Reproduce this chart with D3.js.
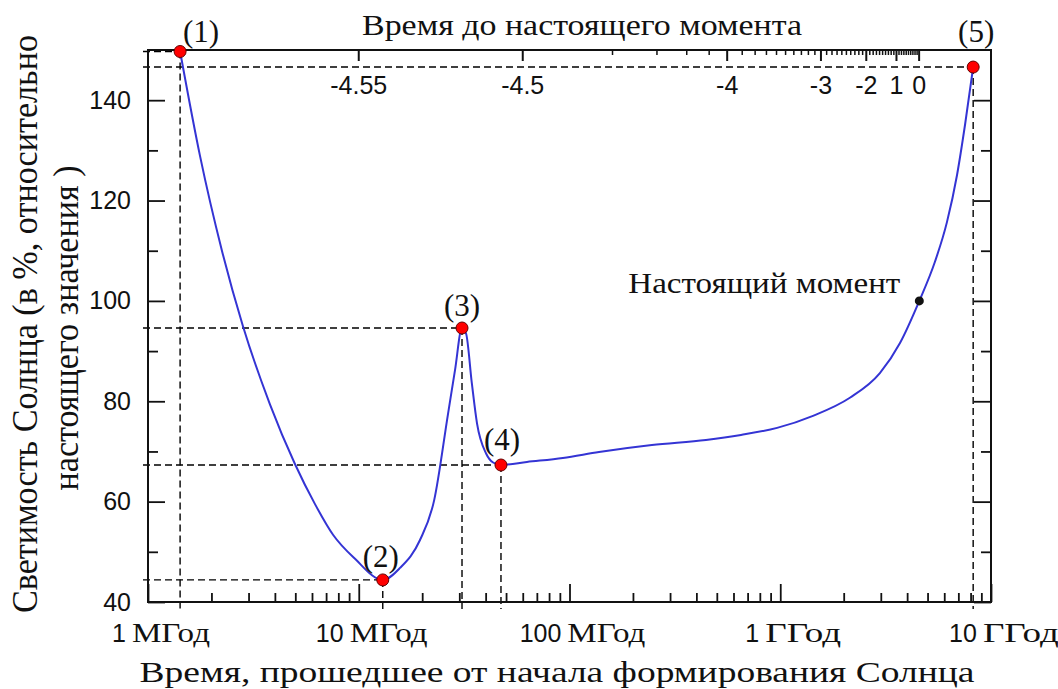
<!DOCTYPE html>
<html lang="ru">
<head>
  <meta charset="UTF-8">
  <title>Светимость Солнца</title>
  <script src="https://d3js.org/d3.v7.min.js"></script>
  <style>
    body { margin: 0; background: #fff; }
    .serif { font-family: "Liberation Serif", "Times New Roman", serif; fill: #111; }
    .sans { font-family: "Liberation Sans", Arial, sans-serif; fill: #111; }
    .tick line { stroke: #111; stroke-width: 1.8; }
    .dash { stroke: #000; stroke-width: 1.4; stroke-dasharray: 7,4; fill: none; }
  </style>
</head>
<body>
  <svg id="chart" width="1058" height="689"></svg>
  <script>
    // luminosity curve: time since formation (MYr) and luminosity (% of today)
    const curveTime = [1.42, 1.765, 2.24, 2.82, 3.79, 4.98, 6.2, 7.55, 9.6, 13.0, 15.7, 19.5, 22.8, 26.5, 28.6, 30.9,
                       32.3, 34.4, 36.4, 40.2, 43.4, 47.3, 62.8, 93, 138, 246, 444, 651, 966, 1430, 2140, 2970, 3700,
                       4570, 5420, 6180, 6900, 7530, 8230];
    const curveLum = [149.7, 128.9, 110.1, 95.0, 79.4, 67.5, 59.5, 53.4, 48.6, 44.4, 46.8, 52.3, 60.3, 77.4, 86.1, 94.6,
                      93.5, 83.6, 75.6, 69.6, 67.8, 67.3, 67.9, 68.7, 69.9, 71.3, 72.3, 73.3, 74.7, 77.1, 80.7, 85.6, 91.6,
                      100, 107.8, 115.7, 125.1, 135.1, 146.6];

    // marked stages
    const markTime = [1.42, 13.0, 30.9, 47.3, 8230];
    const markLum = [149.7, 44.4, 94.6, 67.3, 146.6];
    const markLabels = ["(1)", "(2)", "(3)", "(4)", "(5)"];
    const markLabelDx = [21, -2, 0, 1, 3];
    const markLabelDy = [-10, -13, -12, -15, -25];

    const nowTime = 4570;   // MYr
    const nowLum = 100;
    const nowLabel = "Настоящий момент";

    // bottom axis
    const bottomTicks = [1, 10, 100, 1000, 10000];
    const bottomNums = ["1", "10", "100", "1", "10"];
    const bottomUnits = ["МГод", "МГод", "МГод", "ГГод", "ГГод"];

    // top axis: Gyr before present
    const nowGyr = 4.56;
    const topMajor = [-4.55, -4.5, -4, -3, -2, -1, 0];
    const topLabels = ["-4.55", "-4.5", "-4", "-3", "-2", "1", "0"];
    const topMinor = d3.range(1, 45).map(i => -i / 10).filter(v => Math.abs(v - Math.round(v)) > 1e-6);

    // left axis
    const yMajor = [40, 60, 80, 100, 120, 140];
    const yMinor = [50, 70, 90, 110, 130];

    const L = 148, R = 991, T = 50, B = 602;
    const svg = d3.select("#chart");
    const x = d3.scaleLog().domain([1, 10000]).range([L, R]);
    const y = d3.scaleLinear().domain([40, 150]).range([B, T]);
    const xTop = v => x((nowGyr + v) * 1000);

    // dashed guide lines
    const guides = svg.append("g");
    markTime.forEach((t, i) => {
      guides.append("line").attr("class", "dash")
        .attr("x1", L - 5).attr("x2", x(t)).attr("y1", y(markLum[i])).attr("y2", y(markLum[i]));
      guides.append("line").attr("class", "dash")
        .attr("x1", x(t)).attr("x2", x(t)).attr("y1", y(markLum[i])).attr("y2", B + 7);
    });

    // axes (ticks only, drawn inward)
    const bottomMinor = x.ticks().filter(v => !bottomTicks.includes(v));
    svg.append("g").attr("transform", `translate(0,${B})`)
      .call(d3.axisBottom(x).tickValues(bottomMinor).tickSize(-9).tickFormat(""))
      .call(g => g.select(".domain").remove());
    svg.append("g").attr("transform", `translate(0,${B})`)
      .call(d3.axisBottom(x).tickValues(bottomTicks).tickSize(-18).tickFormat(""))
      .call(g => g.select(".domain").remove());

    svg.append("g").attr("transform", `translate(${L},0)`)
      .call(d3.axisLeft(y).tickValues(yMajor).tickSize(-17).tickPadding(17))
      .call(g => g.select(".domain").remove())
      .call(g => g.selectAll("text").attr("class", "sans").style("font-size", "25px"));
    svg.append("g").attr("transform", `translate(${L},0)`)
      .call(d3.axisLeft(y).tickValues(yMinor).tickSize(-10).tickFormat(""))
      .call(g => g.select(".domain").remove());
    svg.append("g").attr("transform", `translate(${R},0)`)
      .call(d3.axisRight(y).tickValues(yMajor).tickSize(-17).tickFormat(""))
      .call(g => g.select(".domain").remove());
    svg.append("g").attr("transform", `translate(${R},0)`)
      .call(d3.axisRight(y).tickValues(yMinor).tickSize(-10).tickFormat(""))
      .call(g => g.select(".domain").remove());

    const topG = svg.append("g").attr("transform", `translate(0,${T})`);
    topG.selectAll(".tmin").data(topMinor).join("line").attr("class", "tmin")
      .attr("x1", xTop).attr("x2", xTop).attr("y1", 0).attr("y2", 5)
      .attr("stroke", "#111").attr("stroke-width", 1.5);
    topG.selectAll(".tmaj").data(topMajor).join("line").attr("class", "tmaj")
      .attr("x1", xTop).attr("x2", xTop).attr("y1", 0).attr("y2", 11)
      .attr("stroke", "#111").attr("stroke-width", 2);
    topG.selectAll(".tlab").data(topMajor).join("text").attr("class", "sans tlab")
      .attr("x", xTop).attr("y", 44).attr("text-anchor", "middle")
      .style("font-size", "25px").text((d, i) => topLabels[i]);

    // frame
    svg.append("rect").attr("x", L).attr("y", T).attr("width", R - L).attr("height", B - T)
      .attr("fill", "none").attr("stroke", "#111").attr("stroke-width", 2);

    // bottom tick labels: sans number + serif unit, centred a bit right of the tick
    bottomTicks.forEach((d, i) => {
      const num = svg.append("text").attr("class", "sans").attr("y", 642)
        .style("font-size", "25px").text(bottomNums[i]);
      const unitW = bottomUnits[i] === "МГод" ? 78 : 76;
      const numW = num.node().getComputedTextLength();
      const start = x(d) + 13 - (numW + 6 + unitW) / 2;
      num.attr("x", start);
      svg.append("text").attr("class", "serif").attr("x", start + numW + 6).attr("y", 642)
        .attr("textLength", unitW).attr("lengthAdjust", "spacingAndGlyphs")
        .style("font-size", "27px").text(bottomUnits[i]);
    });

    // titles
    svg.append("text").attr("class", "serif").attr("x", 582).attr("y", 35)
      .attr("text-anchor", "middle").attr("textLength", 440).attr("lengthAdjust", "spacingAndGlyphs")
      .style("font-size", "29px").text("Время до настоящего момента");
    svg.append("text").attr("class", "serif").attr("x", 557).attr("y", 682)
      .attr("text-anchor", "middle").attr("textLength", 835).attr("lengthAdjust", "spacingAndGlyphs")
      .style("font-size", "30px").text("Время, прошедшее от начала формирования Солнца");
    svg.append("text").attr("class", "serif").attr("transform", "translate(37,324) rotate(-90)")
      .attr("text-anchor", "middle").attr("textLength", 578).attr("lengthAdjust", "spacingAndGlyphs")
      .style("font-size", "36px").text("Светимость Солнца (в %, относительно");
    svg.append("text").attr("class", "serif").attr("transform", "translate(78,328) rotate(-90)")
      .attr("text-anchor", "middle").attr("textLength", 325).attr("lengthAdjust", "spacingAndGlyphs")
      .style("font-size", "36px").text("настоящего значения )");

    // curve
    const line = d3.line().x((d, i) => x(curveTime[i])).y(d => y(d)).curve(d3.curveMonotoneX);
    svg.append("path").datum(curveLum).attr("d", line)
      .attr("fill", "none").attr("stroke", "#3434d4").attr("stroke-width", 2);

    // present moment
    svg.append("circle").attr("cx", x(nowTime)).attr("cy", y(nowLum)).attr("r", 4.5).attr("fill", "#111");
    svg.append("text").attr("class", "serif").attr("x", x(nowTime) - 19).attr("y", y(nowLum) - 8)
      .attr("text-anchor", "end").attr("textLength", 272).attr("lengthAdjust", "spacingAndGlyphs")
      .style("font-size", "29px").text(nowLabel);

    // marked points
    svg.selectAll(".mark").data(markTime).join("circle").attr("class", "mark")
      .attr("cx", d => x(d)).attr("cy", (d, i) => y(markLum[i])).attr("r", 6)
      .attr("fill", "#f00").attr("stroke", "#600").attr("stroke-width", 1);
    svg.selectAll(".mlab").data(markTime).join("text").attr("class", "serif mlab")
      .attr("x", (d, i) => x(d) + markLabelDx[i]).attr("y", (d, i) => y(markLum[i]) + markLabelDy[i])
      .attr("text-anchor", "middle").style("font-size", "31px").text((d, i) => markLabels[i]);
  </script>
</body>
</html>
